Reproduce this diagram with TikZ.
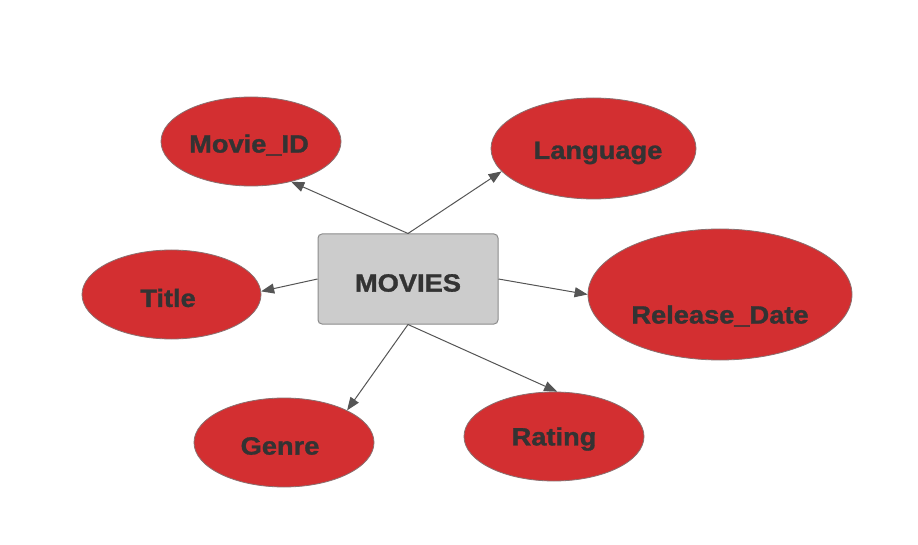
\documentclass[tikz,border=0pt]{standalone}
\usepackage{fontspec}
\setmainfont{Liberation Sans}
\newfontfamily\heavyfont[BoldFeatures={FakeBold=1.2}]{Liberation Sans}
\usetikzlibrary{shapes.geometric,arrows.meta}
\definecolor{attrred}{HTML}{D32F31}
\definecolor{attredge}{HTML}{8A6F6F}
\definecolor{boxfill}{HTML}{CCCCCC}
\definecolor{boxedge}{HTML}{8C8C8C}
\definecolor{txt}{HTML}{333333}
\definecolor{conn}{HTML}{555555}
\tikzset{
  attr/.style={ellipse, draw=attredge, fill=attrred, line width=0.8pt, inner sep=0pt},
  lbl/.style={text=txt, font=\heavyfont\fontsize{25}{30}\selectfont\bfseries, inner sep=0pt},
  entity/.style={rectangle, rounded corners=4pt, draw=boxedge, fill=boxfill, line width=1pt,
    minimum width=180pt, minimum height=90pt, inner sep=0pt},
  conn/.style={draw=conn, line width=1pt, -{Triangle[length=13pt,width=10pt]}}
}
\newcommand{\wlbl}[1]{\scalebox{1.09}[1]{#1}}
\begin{document}
\begin{tikzpicture}[x=1pt,y=-1pt]
\useasboundingbox (0,0) rectangle (918,545);
\fill[white] (0,0) rectangle (918,545);
\node[attr, minimum width=180pt, minimum height=89pt] (movieid) at (251,141.5) {};
\node[attr, minimum width=205pt, minimum height=101pt] (language) at (593.5,148.5) {};
\node[attr, minimum width=179pt, minimum height=89pt] (title) at (171.5,294.5) {};
\node[attr, minimum width=264pt, minimum height=131pt] (release) at (720,294.5) {};
\node[attr, minimum width=180pt, minimum height=89pt] (genre) at (284,442.5) {};
\node[attr, minimum width=180pt, minimum height=89pt] (rating) at (554,436.5) {};
\node[entity] (movies) at (408,279) {};
\node[lbl] (tmovies) at (408,283) {\wlbl{MOVIES}};
\node[lbl] (tmovieid) at (249,145) {\wlbl{Movie\_ID}};
\node[lbl] (tlanguage) at (598,153) {\wlbl{Language}};
\node[lbl] (ttitle) at (168,298) {\wlbl{Title}};
\node[lbl] (trelease) at (720,316) {\wlbl{Release\_Date}};
\node[lbl] (tgenre) at (280,446) {\wlbl{Genre}};
\node[lbl] (trating) at (554,439) {\wlbl{Rating}};
\draw[conn] (movies.north) -- (movieid.-45);
\draw[conn] (movies.north) -- (language.194);
\draw[conn] (movies.west) -- (title.2);
\draw[conn] (movies.east) -- (release.west);
\draw[conn] (movies.south) -- (genre.27);
\draw[conn] (movies.south) -- (rating.86);
\end{tikzpicture}
\end{document}
